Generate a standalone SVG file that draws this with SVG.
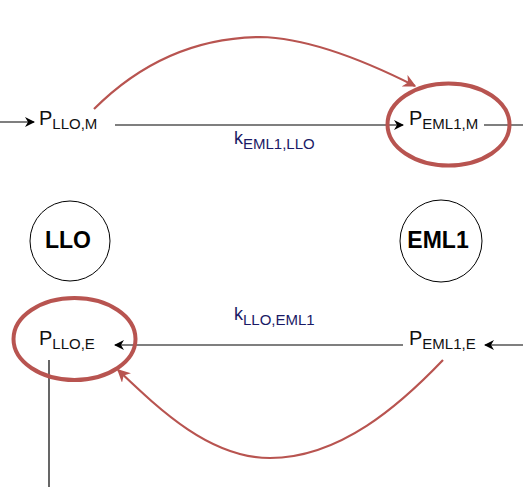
<svg xmlns="http://www.w3.org/2000/svg" width="523" height="487" viewBox="0 0 523 487">
<defs>
<style>
.lbl{font-family:"Liberation Sans",Arial,sans-serif;fill:#111;font-size:20px}
.sub{font-size:15px}
.k{font-family:"Liberation Sans",Arial,sans-serif;fill:#1a1a66;font-size:18px}
.ttl{font-family:"Liberation Sans",Arial,sans-serif;font-weight:bold;font-size:23px;fill:#000;text-anchor:middle}
.edge{fill:none;stroke:#000;stroke-width:1.2}
.red{fill:none;stroke:#b85450;stroke-width:2.2}
.ring{fill:none;stroke:#b85450;stroke-width:4}
.circ{fill:#fff;stroke:#000;stroke-width:1}
</style>
<marker id="ab" viewBox="0 0 10 10" refX="9" refY="5" markerWidth="10" markerHeight="10" markerUnits="userSpaceOnUse" orient="auto">
<path d="M0,0 L10,5 L0,10 L3,5 Z" fill="#000"/>
</marker>
<marker id="ar" viewBox="0 0 10 10" refX="9" refY="5" markerWidth="13" markerHeight="13" markerUnits="userSpaceOnUse" orient="auto">
<path d="M0,0 L10,5 L0,10 L3,5 Z" fill="#b85450"/>
</marker>
</defs>
<g id="connectors">
<line class="edge" x1="0" y1="122" x2="34" y2="122" marker-end="url(#ab)"/>
<line class="edge" x1="115" y1="125" x2="403" y2="125" marker-end="url(#ab)"/>
<line class="edge" x1="484" y1="125" x2="523" y2="125"/>
<line class="edge" x1="523" y1="345" x2="485" y2="345" marker-end="url(#ab)"/>
<line class="edge" x1="403" y1="345" x2="115" y2="345" marker-end="url(#ab)"/>
<line class="edge" x1="49" y1="360" x2="49" y2="487"/>
<path class="red" d="M94,109 Q165,38 260,37 Q320,38 415,86" marker-end="url(#ar)"/>
<path class="red" d="M443,360 C400,405 340,458 270,458 C210,458 160,410 118,370" marker-end="url(#ar)"/>
<text class="k" x="234" y="144">k<tspan class="sub" dy="5">EML1,LLO</tspan></text>
<text class="k" x="234" y="320">k<tspan class="sub" dy="5">LLO,EML1</tspan></text>
</g>
<g id="node-llo">
<circle class="circ" cx="70" cy="241" r="40"/>
<text class="ttl" x="68" y="248">LLO</text>
</g>
<g id="node-eml1">
<circle class="circ" cx="441" cy="241" r="41"/>
<text class="ttl" x="438" y="248">EML1</text>
</g>
<g id="node-pllom">
<text class="lbl" x="39" y="125">P<tspan class="sub" dy="4">LLO,M</tspan></text>
</g>
<g id="node-peml1m">
<ellipse class="ring" cx="448.5" cy="124.5" rx="61" ry="41"/>
<text class="lbl" x="409" y="125">P<tspan class="sub" dy="4">EML1,M</tspan></text>
</g>
<g id="node-plloe">
<ellipse class="ring" cx="74.5" cy="339" rx="61" ry="41"/>
<text class="lbl" x="39" y="345">P<tspan class="sub" dy="4">LLO,E</tspan></text>
</g>
<g id="node-peml1e">
<text class="lbl" x="409" y="345">P<tspan class="sub" dy="4">EML1,E</tspan></text>
</g>
</svg>
